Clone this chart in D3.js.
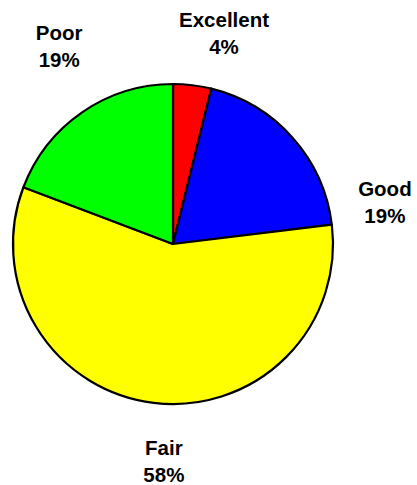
<!DOCTYPE html>
<html>
<head>
<meta charset="utf-8">
<script src="https://cdn.jsdelivr.net/npm/d3@7"></script>
<style>
html,body{margin:0;padding:0;background:#fff;}
svg{display:block;}
</style>
</head>
<body>
<svg id="chart" width="417" height="485"></svg>
<script>
const categories = ["Excellent", "Good", "Fair", "Poor"];
const values = [1, 5, 15, 5];
const percentLabels = ["4%", "19%", "58%", "19%"];
const colors = ["#FF0000", "#0000FF", "#FFFF00", "#00FF00"];

const width = 417, height = 485;
const cx = 173, cy = 244, radius = 160;
// label placement (polar: degrees clockwise from top, distance from center)
const labelPolar = [[13.6, 217], [78.8, 216], [182.4, 218], [330, 227.6]];

const svg = d3.select("#chart");
const g = svg.append("g").attr("transform", `translate(${cx},${cy})`);

const data = categories.map((c, i) => ({cat: c, value: values[i], pct: percentLabels[i], color: colors[i]}));
const pie = d3.pie().value(d => d.value).sort(null);
const arc = d3.arc().innerRadius(0).outerRadius(radius);
const arcs = pie(data);

g.selectAll("path").data(arcs).enter().append("path")
  .attr("d", arc)
  .attr("fill", d => d.data.color)
  .attr("stroke", "#000")
  .attr("stroke-width", 2.2)
  .attr("stroke-linejoin", "round");

const lbl = g.selectAll("g.lbl").data(arcs).enter().append("g")
  .attr("class", "lbl")
  .attr("transform", (d, i) => {
    const a = labelPolar[i][0] * Math.PI / 180, r = labelPolar[i][1];
    return `translate(${r * Math.sin(a)},${-r * Math.cos(a)})`;
  });
lbl.append("text")
  .attr("text-anchor", "middle")
  .attr("font-family", "Liberation Sans, Arial, sans-serif")
  .attr("font-weight", "bold")
  .attr("font-size", 20.5)
  .attr("fill", "#000")
  .selectAll("tspan")
  .data(d => [d.data.cat, d.data.pct])
  .enter().append("tspan")
  .attr("x", 0)
  .attr("y", (t, j) => j === 0 ? -6.5 : 20.5)
  .text(t => t);
</script>
</body>
</html>
